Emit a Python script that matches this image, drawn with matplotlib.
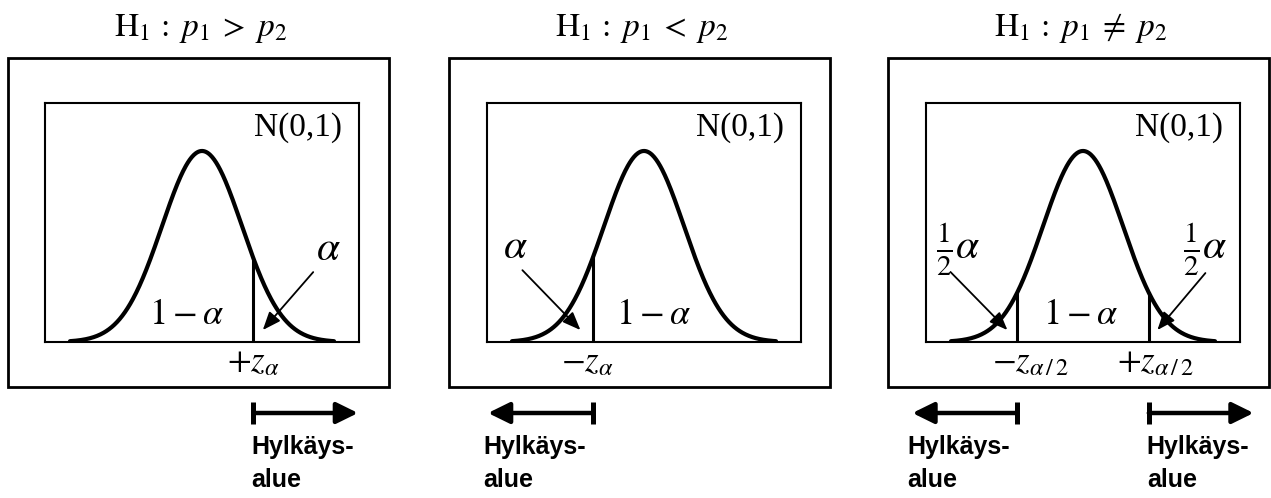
import numpy as np
import matplotlib
matplotlib.use('Agg')
import matplotlib.pyplot as plt
from matplotlib.patches import Rectangle

plt.rcParams['mathtext.fontset'] = 'stix'
plt.rcParams['font.family'] = ['Liberation Serif', 'DejaVu Serif']

# vaihtoehtoiset hypoteesit ja kriittiset arvot (alpha = 0.10)
titles = [r'$\mathrm{H}_1\,:\;p_1\;>\;p_2$',
          r'$\mathrm{H}_1\,:\;p_1\;<\;p_2$',
          r'$\mathrm{H}_1\,:\;p_1\;\neq\;p_2$']
crit_values = [[1.28], [-1.28], [-1.645, 1.645]]
crit_labels = [[r'$+z_{\alpha}$'], [r'$-z_{\alpha}$'],
               [r'$-z_{\alpha\,/\,2}$', r'$+z_{\alpha\,/\,2}$']]
tail_labels = [[r'$\alpha$'], [r'$\alpha$'],
               [r'$\frac{1}{2}\alpha$', r'$\frac{1}{2}\alpha$']]
center_label = r'$1-\alpha$'
dist_label = 'N(0,1)'
reject_label = ['Hylkäys-', 'alue']

# sijoittelu pikseleinä (kuva 1271 x 498)
W, H = 1271, 498
inner_left = [45, 487, 926]
inner_top, inner_bottom, inner_w = 103, 342, 314
outer_left = [8, 449, 888]
outer_top, outer_bottom, outer_w = 58, 387, 381
sigma_px = 40.0

# tekstien ja nuolten paikat (z-yksiköt, tiheysyksiköt)
center_x = [-0.375, 0.24, -0.06]
crit_label_x = [[1.28], [-1.41], [-1.31, 1.81]]
tail_pos = [[(3.15, 0.192)], [(-3.21, 0.196)], [(-3.11, 0.192), (3.06, 0.192)]]
tail_arrow = [[((2.78, 0.146), (1.52, 0.025))],
              [((-3.04, 0.150), (-1.59, 0.025))],
              [((-3.31, 0.146), (-1.89, 0.025)), ((3.06, 0.144), (1.86, 0.025))]]

xmax = inner_w / 2 / sigma_px
ymax = 0.3989 * (inner_bottom - inner_top) / (inner_bottom - 151)
py = ymax / (inner_bottom - inner_top)   # tiheysyksikköä / pikseli

fig = plt.figure(figsize=(W / 100, H / 100), dpi=100)

z = np.linspace(-3.3, 3.3, 400)
pdf = np.exp(-z ** 2 / 2) / np.sqrt(2 * np.pi)
sans = ['Liberation Sans', 'DejaVu Sans']

for i in range(3):
    ax = fig.add_axes([inner_left[i] / W, 1 - inner_bottom / H,
                       inner_w / W, (inner_bottom - inner_top) / H])
    ax.set_xlim(-xmax, xmax)
    ax.set_ylim(0, ymax)
    ax.set_xticks([])
    ax.set_yticks([])
    for s in ax.spines.values():
        s.set_linewidth(1.5)

    # ulompi kehys
    fig.add_artist(Rectangle((outer_left[i] / W, 1 - outer_bottom / H),
                             outer_w / W, (outer_bottom - outer_top) / H,
                             transform=fig.transFigure, fill=False,
                             lw=2.0, ec='black'))

    # otsikko
    ax.text(0.5 * (2 * outer_left[i] + outer_w) / W + 2 / W, 1 - 36 / H, titles[i],
            transform=fig.transFigure, ha='center', va='baseline', fontsize=24)

    ax.plot(z, pdf, color='black', lw=3.0, solid_capstyle='round')
    ax.text(3.5, ymax - 25 * py, dist_label, ha='right', va='center', fontsize=24)
    ax.text(center_x[i], 27 * py, center_label, ha='center', va='center', fontsize=26)

    for j, c in enumerate(crit_values[i]):
        h = np.exp(-c ** 2 / 2) / np.sqrt(2 * np.pi)
        ax.plot([c, c], [0, h], color='black', lw=2.2)
        ax.text(crit_label_x[i][j], -21 * py, crit_labels[i][j],
                ha='center', va='center', fontsize=25)

        lx, ly = tail_pos[i][j]
        ax.text(lx, ly, tail_labels[i][j], ha='center', va='center', fontsize=30)
        (x0, y0), (x1, y1) = tail_arrow[i][j]
        ax.annotate('', xy=(x1, y1), xytext=(x0, y0),
                    arrowprops=dict(arrowstyle='-|>,head_length=0.55,head_width=0.22',
                                    color='black', lw=1.3, mutation_scale=20,
                                    shrinkA=0, shrinkB=0))

        # hylkäysalueen nuoli
        side = 1 if c > 0 else -1
        ya = -71 * py
        tip = c + side * 2.62
        ax.annotate('', xy=(tip, ya), xytext=(c, ya), annotation_clip=False,
                    arrowprops=dict(arrowstyle='-|>,head_length=0.65,head_width=0.32',
                                    color='black', lw=3.2, mutation_scale=20,
                                    shrinkA=0, shrinkB=0))
        ax.plot([c, c], [-60 * py, -82 * py], color='black', lw=3.6,
                clip_on=False, solid_capstyle='butt')
        tx = c - 0.05 if side > 0 else tip - 0.12
        ax.text(tx, -112 * py, reject_label[0], ha='left', va='baseline',
                fontsize=18, fontweight='bold', family=sans)
        ax.text(tx, -145 * py, reject_label[1], ha='left', va='baseline',
                fontsize=18, fontweight='bold', family=sans)

fig.savefig('out.png', dpi=100)
